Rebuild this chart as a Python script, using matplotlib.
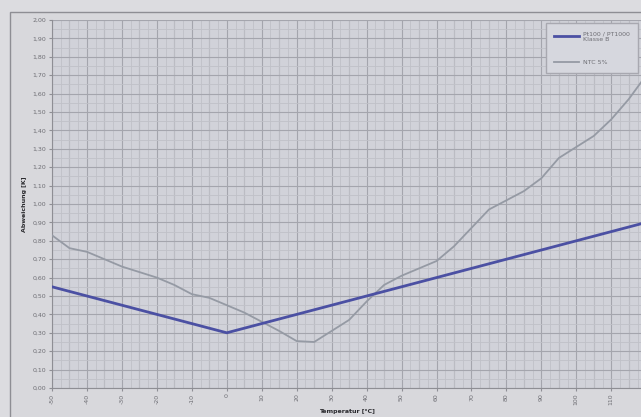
import matplotlib
matplotlib.use("Agg")
import matplotlib.pyplot as plt
from matplotlib.patches import Rectangle
from matplotlib.ticker import MultipleLocator, FuncFormatter

# Temperature grid [°C]
temps = [-50, -45, -40, -35, -30, -25, -20, -15, -10, -5, 0, 5, 10, 15, 20, 25, 30,
         35, 40, 45, 50, 55, 60, 65, 70, 75, 80, 85, 90, 95, 100, 105, 110, 115, 120]

# Pt100 / Pt1000 class B tolerance [K]
pt_class_b = [0.55, 0.525, 0.50, 0.475, 0.45, 0.425, 0.40, 0.375, 0.35, 0.325, 0.30,
              0.325, 0.35, 0.375, 0.40, 0.425, 0.45, 0.475, 0.50, 0.525, 0.55, 0.575,
              0.60, 0.625, 0.65, 0.675, 0.70, 0.725, 0.75, 0.775, 0.80, 0.825, 0.85,
              0.875, 0.90]

# NTC 5% deviation [K]
ntc_5 = [0.83, 0.76, 0.74, 0.70, 0.66, 0.63, 0.60, 0.56, 0.51, 0.49, 0.45,
         0.41, 0.36, 0.31, 0.255, 0.25, 0.31, 0.37, 0.47, 0.56, 0.61, 0.65,
         0.69, 0.77, 0.87, 0.97, 1.02, 1.07, 1.14, 1.25, 1.31, 1.37, 1.46,
         1.57, 1.70]

x_ticks = list(range(-50, 120, 10))
legend_labels = ["Pt100 / PT1000\nKlasse B", "NTC 5%"]

W, H = 641, 417
fig = plt.figure(figsize=(W / 100, H / 100), dpi=100)
fig.patch.set_facecolor("#dcdce0")

# outer chart frame
fig.patches.append(Rectangle((10 / W, -0.05), 1.0, 1 - 12 / H + 0.05,
                             transform=fig.transFigure, facecolor="#d8d8dc",
                             edgecolor="#8e8e94", linewidth=1.0, zorder=0))

ax = fig.add_axes([52 / W, 1 - 388 / H, 1 - 52 / W, (388 - 20) / H])
ax.set_zorder(2)
ax.set_facecolor("#d1d2d9")

ax.plot(temps, ntc_5, color="#959aa4", linewidth=1.3, label=legend_labels[1], zorder=3)
ax.plot(temps, pt_class_b, color="#4b50a3", linewidth=2.0, label=legend_labels[0], zorder=4)

ax.set_xlim(-50, 118.5)
ax.set_ylim(0, 2.0)

ax.xaxis.set_minor_locator(MultipleLocator(2.5))
ax.yaxis.set_major_locator(MultipleLocator(0.1))
ax.yaxis.set_minor_locator(MultipleLocator(0.05))
ax.set_xticks(x_ticks)
ax.set_xticklabels([str(t) for t in x_ticks], rotation=90, fontsize=4.5, color="#6e6e74")
ax.yaxis.set_major_formatter(FuncFormatter(lambda v, p: f"{v:.2f}".replace(".", ",")))
for lab in ax.get_yticklabels():
    lab.set_fontsize(4.5)
    lab.set_color("#6e6e74")

ax.grid(which="major", color="#a4a5ad", linewidth=0.8)
ax.grid(which="minor", color="#c0c1c8", linewidth=0.6)
# additional 5 °C lines between the labelled ticks
for t in range(-45, 120, 10):
    ax.axvline(t, color="#a4a5ad", linewidth=0.8, zorder=0.5)
ax.set_axisbelow(True)
ax.tick_params(which="both", length=2, color="#8e8e94", pad=2)
ax.tick_params(which="minor", length=0)

for s in ["top", "right"]:
    ax.spines[s].set_visible(False)
ax.spines["left"].set_color("#8e8e94")
ax.spines["bottom"].set_color("#8e8e94")

ax.set_ylabel("Abweichung [K]", fontsize=4.5, fontweight="bold", color="#2a2a2e", labelpad=4)
ax.set_xlabel("Temperatur [°C]", fontsize=4.5, fontweight="bold", color="#2a2a2e", labelpad=3)

handles, labels = ax.get_legend_handles_labels()
leg = ax.legend(handles[::-1], labels[::-1], loc="upper right", fontsize=4.5,
                frameon=True, fancybox=False, edgecolor="#a8a8b0", facecolor="#d6d7de",
                borderpad=1.3, labelspacing=2.8, handlelength=4, handletextpad=0.6,
                framealpha=1, bbox_to_anchor=(1.0, 1.0))
for t in leg.get_texts():
    t.set_color("#6e6e74")

fig.savefig("out.png", dpi=100, facecolor=fig.get_facecolor())
